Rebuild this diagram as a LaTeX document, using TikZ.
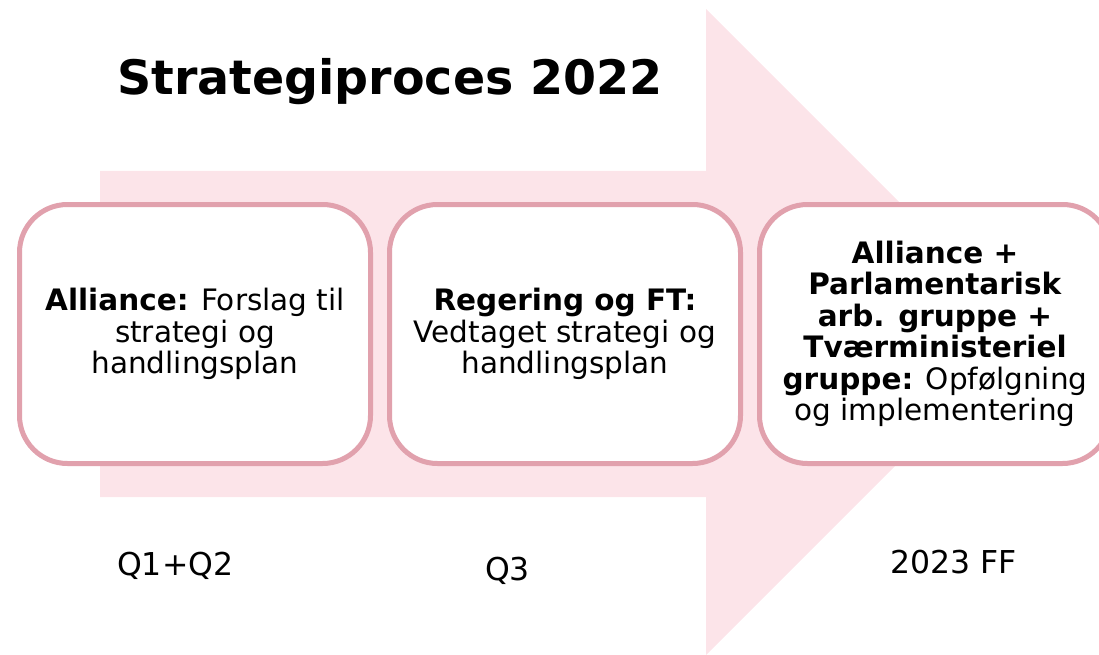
\documentclass[tikz,border=0pt]{standalone}
\usepackage{fontspec}
\setmainfont{DejaVu Sans}
\usepackage{xcolor}
\definecolor{pilrosa}{HTML}{FCE4E9}
\definecolor{kantrosa}{HTML}{E1A1AD}

\begin{document}
\begin{tikzpicture}
    [x=1pt,y=-1pt,
    etape/.style = {draw=kantrosa, fill=white, line width=5pt,
                    rounded corners=48pt, align=center,
                    minimum width=351pt, minimum height=259pt,
                    inner sep=0pt,
                    font=\fontsize{29.5}{31.5}\selectfont},
    tid/.style = {anchor=base west, inner sep=0pt,
                  font=\fontsize{31.5}{34}\selectfont}]
    \useasboundingbox (0,0) rectangle (1099,655);
    \clip (0,0) rectangle (1099,655);
    % Pil
    \fill[pilrosa] (100,171) -- (706,171) -- (706,9) -- (1029,332)
        -- (706,655) -- (706,497) -- (100,497) -- cycle;
    % Overskrift
    \node[anchor=base west, inner sep=0pt,
          font=\fontsize{47.5}{52}\selectfont\bfseries] (titel) at (117,95)
          {Strategiproces 2022};
    % Faser
    \node[etape] (alliance) at (195,334)
          {\textbf{Alliance:} Forslag til\\strategi og\\handlingsplan};
    \node[etape] (regering) at (565,334)
          {\textbf{Regering og FT:}\\Vedtaget strategi og\\handlingsplan};
    \node[etape] (opfoelg) at (935,334)
          {\textbf{Alliance +}\\\textbf{Parlamentarisk}\\\textbf{arb. gruppe +}\\
           \textbf{Tværministeriel}\\\textbf{gruppe:} Opfølgning\\og implementering};
    % Tidspunkter
    \node[tid] (q12) at (117,575) {Q1+Q2};
    \node[tid] (q3) at (485,580) {Q3};
    \node[tid] (ff) at (890,573) {2023 FF};
\end{tikzpicture}
\end{document}
